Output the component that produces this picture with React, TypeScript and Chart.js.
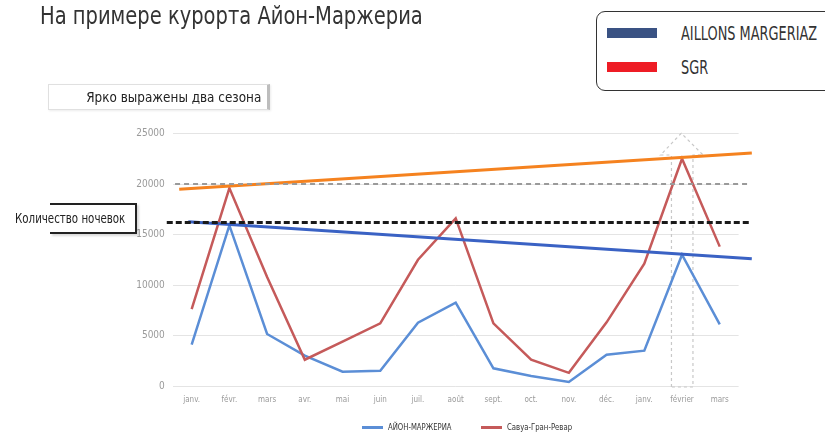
import React, { useEffect, useRef } from "react";
import { Chart, registerables } from "chart.js";

Chart.register(...registerables);

const months = ["janv.", "févr.", "mars", "avr.", "mai", "juin", "juil.", "août", "sept.", "oct.", "nov.", "déc.", "janv.", "février", "mars"];
const aillonsValues = [4100, 15900, 5150, 3000, 1420, 1520, 6270, 8250, 1750, 1000, 400, 3100, 3500, 13000, 6100];
const sgrValues = [7600, 19600, 10800, 2600, 4400, 6200, 12500, 16600, 6200, 2600, 1300, 6300, 12100, 22500, 13800];
const yTickValues = [0, 5000, 10000, 15000, 20000, 25000];
const orangeTrendX = [-0.33, 14.85];
const orangeTrendY = [19470, 23060];
const blueTrendX = [-0.09, 14.85];
const blueTrendY = [16270, 12600];
const greyRefX = [-0.44, 14.8];
const greyRefY = [20000, 20000];
const blackRefX = [-0.66, 14.8];
const blackRefY = [16200, 16200];
const arrowX = [12.72, 12.72, 12.43, 12.98, 13.56, 13.29, 13.29, 12.72];
const arrowY = [-100, 22870, 22870, 25020, 22870, 22870, -100, -100];

const seriesNames = ["АЙОН-МАРЖЕРИА", "Савуа-Гран-Ревар"];
const topLegend = ["AILLONS MARGERIAZ", "SGR"];

const NARROW = '"Liberation Sans Narrow", "DejaVu Sans Condensed", "Roboto Condensed", "Liberation Sans", sans-serif';

const zip = (xs: number[], ys: number[]) => xs.map((x, i) => ({ x, y: ys[i] }));

function ChartCanvas() {
  const ref = useRef<HTMLCanvasElement | null>(null);
  useEffect(() => {
    if (!ref.current) return;
    const chart = new Chart(ref.current, {
      type: "line",
      data: {
        datasets: [
          { label: "black", data: zip(blackRefX, blackRefY), borderColor: "#1a1a1a", borderWidth: 3, borderDash: [6, 3], pointRadius: 0, clip: false } as any,
          { label: "grey", data: zip(greyRefX, greyRefY), borderColor: "#9a9a9a", borderWidth: 2, borderDash: [5, 4], pointRadius: 0, clip: false } as any,
          { label: "orange", data: zip(orangeTrendX, orangeTrendY), borderColor: "#f5821f", borderWidth: 3, pointRadius: 0, clip: false } as any,
          { label: "blueTrend", data: zip(blueTrendX, blueTrendY), borderColor: "#3a62c4", borderWidth: 3, pointRadius: 0, clip: false } as any,
          { label: seriesNames[1], data: sgrValues.map((v, i) => ({ x: i, y: v })), borderColor: "#c55a5a", borderWidth: 2.5, pointRadius: 0, tension: 0 },
          { label: seriesNames[0], data: aillonsValues.map((v, i) => ({ x: i, y: v })), borderColor: "#5b8ed6", borderWidth: 2.5, pointRadius: 0, tension: 0 },
          { label: "arrow", data: zip(arrowX, arrowY), borderColor: "#c8c8c8", borderWidth: 1.2, borderDash: [3, 3], pointRadius: 0, clip: false } as any,
        ],
      },
      options: {
        animation: false,
        responsive: false,
        devicePixelRatio: 1,
        layout: { padding: { left: 122.8, right: 86.4, top: 133.5, bottom: 22 } },
        plugins: { legend: { display: false }, tooltip: { enabled: false } },
        scales: {
          x: {
            type: "linear",
            min: -0.5,
            max: 14.5,
            grid: { display: false, drawTicks: false },
            border: { display: false },
            afterBuildTicks: (axis: any) => {
              axis.ticks = months.map((_, i) => ({ value: i }));
            },
            afterFit: (axis: any) => {
              axis.height = 24;
            },
            ticks: {
              autoSkip: false,
              maxRotation: 0,
              padding: 9,
              color: "#9a9a9a",
              font: { family: NARROW, size: 8 },
              callback: (v: any) => months[Number(v)] ?? "",
            },
          },
          y: {
            min: 0,
            max: 25000,
            grid: { color: "#e4e4e4", lineWidth: 1, drawTicks: false },
            border: { display: false },
            afterBuildTicks: (axis: any) => {
              axis.ticks = yTickValues.map((v) => ({ value: v }));
            },
            afterFit: (axis: any) => {
              axis.width = 50;
            },
            ticks: {
              padding: 8,
              color: "#9a9a9a",
              font: { family: NARROW, size: 10 },
              callback: (v: any) => String(v),
            },
          },
        },
      },
    });
    return () => chart.destroy();
  }, []);
  return <canvas ref={ref} width={825} height={432} style={{ width: 825, height: 432, display: "block" }} />;
}

const squeeze = (s: number, origin = "left"): React.CSSProperties => ({
  transform: `scaleX(${s})`,
  transformOrigin: `${origin} center`,
  whiteSpace: "nowrap",
});

export default function App() {
  return (
    <div style={{ position: "absolute", left: 0, top: 0, width: 825, height: 432, overflow: "hidden", background: "#fff", fontFamily: NARROW }}>
      <ChartCanvas />
      <div style={{ position: "absolute", left: 40, top: 2, fontSize: 24, lineHeight: "28px", color: "#333", ...squeeze(0.903) }}>
        На примере курорта Айон-Маржериа
      </div>
      <div style={{ position: "absolute", left: 596, top: 11, width: 260, height: 80, border: "1.5px solid #333", borderRadius: 9, background: "#fff", boxSizing: "border-box" }} />
      <div style={{ position: "absolute", left: 607, top: 28, width: 50, height: 10, background: "#3a5283" }} />
      <div style={{ position: "absolute", left: 607, top: 62, width: 50, height: 10, background: "#ee1c25" }} />
      <div style={{ position: "absolute", left: 681, top: 21, fontSize: 19, lineHeight: "24px", color: "#333", ...squeeze(0.755) }}>{topLegend[0]}</div>
      <div style={{ position: "absolute", left: 681, top: 55, fontSize: 19, lineHeight: "24px", color: "#333", ...squeeze(0.755) }}>{topLegend[1]}</div>
      <div style={{ position: "absolute", left: 48, top: 84, width: 222, height: 26, border: "1px solid #e0e0e0", borderRight: "3px solid #bdbdbd", boxSizing: "border-box", background: "#fff", boxShadow: "1px 1px 2px rgba(0,0,0,0.08)" }} />
      <div style={{ position: "absolute", right: 825 - 261, top: 84, height: 26, lineHeight: "26px", fontSize: 14, color: "#222", ...squeeze(0.955, "right") }}>
        Ярко выражены два сезона
      </div>
      <div style={{ position: "absolute", left: 50, top: 203, width: 87, height: 31, borderTop: "2px solid #222", borderRight: "2px solid #222", borderBottom: "2px solid #222", boxSizing: "border-box", background: "#fff", boxShadow: "2px 2px 2px rgba(0,0,0,0.15)" }} />
      <div style={{ position: "absolute", left: 15, top: 206, lineHeight: "24px", fontSize: 14, color: "#222", ...squeeze(0.815) }}>
        Количество ночевок
      </div>
      <div style={{ position: "absolute", left: 362, top: 426, width: 21, height: 2.5, background: "#5b8ed6" }} />
      <div style={{ position: "absolute", left: 388, top: 421, fontSize: 9, lineHeight: "12px", color: "#333", ...squeeze(0.85) }}>{seriesNames[0]}</div>
      <div style={{ position: "absolute", left: 481, top: 426, width: 21, height: 2.5, background: "#c55a5a" }} />
      <div style={{ position: "absolute", left: 507, top: 421, fontSize: 9, lineHeight: "12px", color: "#333", ...squeeze(0.855) }}>{seriesNames[1]}</div>
    </div>
  );
}
